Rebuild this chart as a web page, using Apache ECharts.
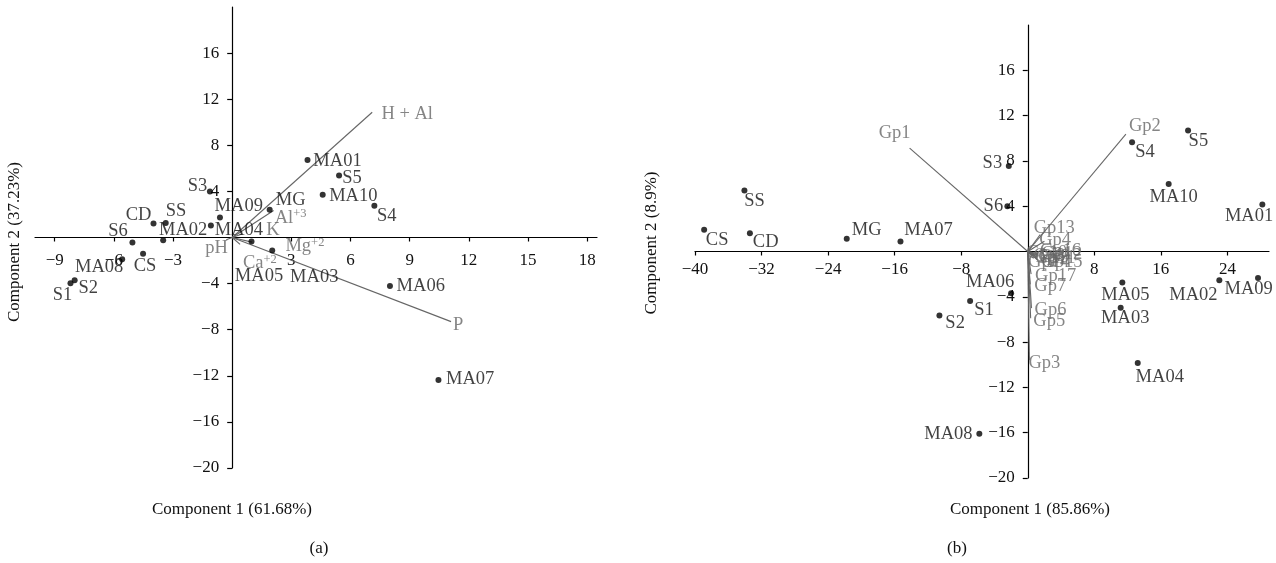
<!DOCTYPE html>
<html><head><meta charset="utf-8">
<script src="https://cdn.jsdelivr.net/npm/echarts@6/dist/echarts.min.js"></script>
<style>html,body{margin:0;padding:0;background:#fff}#c{width:1276px;height:563px}</style>
</head><body><div id="c"></div><script>
// ---------- data ----------
const sampleNames = ['MA01','MA02','MA03','MA04','MA05','MA06','MA07','MA08','MA09','MA10','S1','S2','S3','S4','S5','S6','CD','CS','SS','MG'];
// panel (a): soil attributes PCA
const aX = [3.82,-3.5,2.03,-1.08,0.98,8.0,10.46,-5.58,-0.62,4.59,-8.2,-7.99,-1.13,7.21,5.42,-5.06,-3.99,-4.52,-3.37,1.9];
const aY = [6.73,-0.23,-1.13,1.04,-0.35,-4.2,-12.37,-1.88,1.74,3.72,-3.97,-3.7,4.0,2.76,5.38,-0.43,1.22,-1.42,1.25,2.41];
const aVarNames = ['H + Al','P','Al+3','K','Mg+2','Ca+2','pH'];
const aVarX = [7.1,11.1,2.1,0.5,1.0,0.4,-0.3];
const aVarY = [10.87,-7.3,2.35,0.3,-0.4,-0.6,-0.2];
// panel (b): groups PCA
const bX = [28.2,23.03,11.17,13.22,11.37,-2.0,-15.3,-5.82,27.68,16.94,-6.93,-10.62,-2.28,12.54,19.27,-2.45,-33.4,-38.9,-34.06,-21.76];
const bY = [4.15,-2.53,-4.97,-9.85,-2.73,-3.68,0.88,-16.09,-2.35,5.97,-4.38,-5.65,7.56,9.65,10.68,4.0,1.62,1.92,5.38,1.12];
const bVarNames = ['Gp1','Gp2','Gp3','Gp4','Gp5','Gp6','Gp7','Gp8','Gp9','Gp10','Gp11','Gp12','Gp13','Gp14','Gp15','Gp16','Gp17'];
const bVarX = [-14.2,11.8,0.2,2.0,0.35,0.45,0.3,0.8,1.0,0.6,0.9,1.2,1.5,0.7,1.1,1.3,0.4];
const bVarY = [9.13,10.36,-9.6,0.9,-5.9,-5.0,-2.9,-0.3,-0.5,-0.2,-0.4,-0.3,1.5,-0.6,-0.7,-0.2,-2.0];
// tick labels
const aXTicks = [-9,-6,-3,3,6,9,12,15,18];
const aYTicks = [-20,-16,-12,-8,-4,4,8,12,16];
const bXTicks = [-40,-32,-24,-16,-8,8,16,24];
const bYTicks = [-20,-16,-12,-8,-4,4,8,12,16];
const titles = {ax:'Component 1 (61.68%)', ay:'Component 2 (37.23%)', bx:'Component 1 (85.86%)', by:'Component 2 (8.9%)', a:'(a)', b:'(b)'};

// ---------- label placement (text-centre offsets in px from the mark) ----------
const aLab = {MA01:[30,1],S5:[13,3],MA10:[30.6,1.3],S4:[12.4,10.7],S3:[-12.5,-5],MA09:[18.8,-11],MG:[21,-10],CD:[-15,-8.7],SS:[10.3,-11.7],MA02:[20,-10.3],MA04:[28,4.3],S6:[-14.4,-11],CS:[2,12.7],MA08:[-23,8],S1:[-8,12],S2:[13.6,8.3],MA05:[7.5,35],MA03:[42,26.3],MA06:[30.8,0],MA07:[31.7,-0.7]};
const aVarLab = {'H + Al':[35,2.3],P:[7,3.5],'Al+3':[17,7.3],K:[31,-4],'Mg+2':[53,4.4],'Ca+2':[19.8,18.7],pH:[-9.7,8.3]};
const bLab = {SS:[10.2,11],CS:[13,10.7],CD:[15.8,9.4],MG:[20,-9],MA07:[28,-11.7],S3:[-16.4,-2.7],S6:[-14,0],S4:[13,10.4],S5:[10.3,11],MA10:[5,13.3],MA01:[-13.3,12],MA09:[-9.3,11],MA02:[-26,14.7],MA05:[3,12.3],MA03:[4.6,10.3],MA06:[-21,-10.6],S1:[14,8.7],S2:[15.7,7.6],MA08:[-31,0],MA04:[22,13.7]};
const bVarLab = {Gp1:[-15,-15],Gp2:[19,-7.6],Gp3:[15,3.3],Gp4:[10.7,-1.5],Gp5:[18.6,3],Gp6:[19,1.7],Gp7:[20,2],Gp8:[15,1],Gp9:[18,0],Gp10:[14,-1],Gp11:[20,2],Gp12:[24,-1],Gp13:[14,-6.4],Gp14:[15,4],Gp15:[25,3],Gp16:[22,-3],Gp17:[24.5,2.3]};

const FONT = 'Liberation Serif';
const FS = 17;      // tick labels, titles
const LFS = 18.5;   // point labels
const BLACK = '#111';
const GRAY = '#666';
const minus = v => String(v).replace('-', '\u2212');

const grids = [
  {left:35, top:7, width:562, height:461, xr:[-10,18.5], yr:[-20,20], xMargin:15, yMargin:13},
  {left:695, top:25, width:574, height:453, xr:[-40,29], yr:[-20,20], xMargin:9.5, yMargin:13}
];

function supText(name){
  const m = name.match(/^([A-Za-z]+)(\+\d)$/);
  if (m) return '{n|' + m[1] + '}{s|' + m[2] + '}';
  return '{n|' + name + '}';
}

function sampleSeries(xs, ys, lab, gi){
  return {
    type:'scatter', xAxisIndex:gi, yAxisIndex:gi, symbol:'circle', symbolSize:6,
    itemStyle:{color:'#000'}, z:5,
    data: sampleNames.map((n,i)=>{
      const o = lab[n] || [12,0];
      return {name:n, value:[xs[i],ys[i]],
        label:{show:true, position:[3+o[0],3+o[1]], align:'center', verticalAlign:'middle',
          formatter:n, color:BLACK, fontFamily:FONT, fontSize:LFS}};
    })
  };
}
function vectorLines(names, xs, ys, gi){
  return {
    type:'lines', coordinateSystem:'cartesian2d', xAxisIndex:gi, yAxisIndex:gi, polyline:false, z:3,
    lineStyle:{color:'#666', width:1.1, opacity:1},
    data: names.map((n,i)=>({coords:[[0,0],[xs[i],ys[i]]]}))
  };
}
function vectorLabels(names, xs, ys, lab, gi){
  return {
    type:'scatter', xAxisIndex:gi, yAxisIndex:gi, symbolSize:1, itemStyle:{color:'transparent'}, z:4,
    data: names.map((n,i)=>{
      const o = lab[n] || [12,0];
      return {name:n, value:[xs[i],ys[i]],
        label:{show:true, position:[0.5+o[0],0.5+o[1]], align:'center', verticalAlign:'middle',
          formatter: supText(n),
          rich:{n:{color:GRAY, fontFamily:FONT, fontSize:LFS, lineHeight:20},
                s:{color:GRAY, fontFamily:FONT, fontSize:12.5, lineHeight:12, verticalAlign:'top'}}}};
    })
  };
}
function xAxis(gi, ticks){
  const g = grids[gi];
  const zeroY = g.top + g.height * (g.yr[1] / (g.yr[1] - g.yr[0]));
  return {gridIndex:gi, type:'value', min:g.xr[0], max:g.xr[1], position:'bottom',
    offset: -(g.top + g.height - zeroY),
    axisLine:{onZero:false, lineStyle:{color:'#000', width:1.2}},
    axisTick:{show:true, customValues:ticks, length:4, lineStyle:{color:'#000', width:1.2}},
    axisLabel:{customValues:ticks, formatter:minus, color:BLACK, fontFamily:FONT, fontSize:FS, margin:g.xMargin},
    splitLine:{show:false}};
}
function yAxis(gi, ticks){
  const g = grids[gi];
  const zeroX = g.left + g.width * (-g.xr[0] / (g.xr[1] - g.xr[0]));
  return {gridIndex:gi, type:'value', min:g.yr[0], max:g.yr[1], position:'left',
    offset: -(zeroX - g.left),
    axisLine:{onZero:false, lineStyle:{color:'#000', width:1.2}},
    axisTick:{show:true, customValues:ticks, length:5, lineStyle:{color:'#000', width:1.2}},
    axisLabel:{customValues:ticks, formatter:minus, color:BLACK, fontFamily:FONT, fontSize:FS, margin:g.yMargin},
    splitLine:{show:false}};
}
function txt(x,y,t,rot){
  return {type:'text', x, y, rotation:rot||0,
    style:{text:t, fill:BLACK, font:FS+'px "'+FONT+'"', textAlign:'center', textVerticalAlign:'middle'}};
}

const chart = echarts.init(document.getElementById('c'), null, {renderer:'canvas'});
chart.setOption({
  backgroundColor:'#fff',
  animation:false,
  grid: grids.map(g=>({left:g.left, top:g.top, width:g.width, height:g.height, outerBoundsMode:'none', containLabel:false})),
  xAxis:[xAxis(0,aXTicks), xAxis(1,bXTicks)],
  yAxis:[yAxis(0,aYTicks), yAxis(1,bYTicks)],
  series:[
    vectorLines(aVarNames,aVarX,aVarY,0),
    vectorLabels(aVarNames,aVarX,aVarY,aVarLab,0),
    sampleSeries(aX,aY,aLab,0),
    vectorLines(bVarNames,bVarX,bVarY,1),
    vectorLabels(bVarNames,bVarX,bVarY,bVarLab,1),
    sampleSeries(bX,bY,bLab,1)
  ],
  graphic:[
    txt(232,510,titles.ax), txt(15,242,titles.ay,Math.PI/2),
    txt(1030,510,titles.bx), txt(652,243,titles.by,Math.PI/2),
    txt(319,549,titles.a), txt(957,549,titles.b)
  ]
});
</script></body></html>
